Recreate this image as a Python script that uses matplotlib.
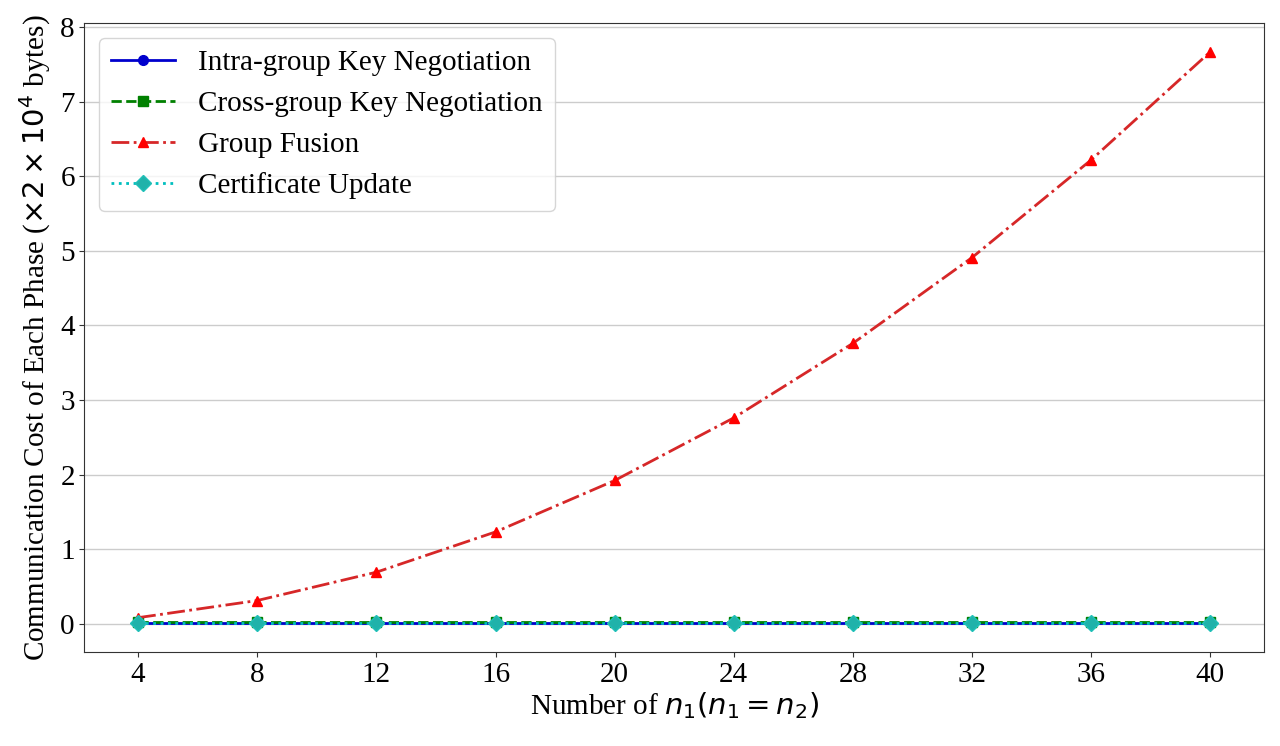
import matplotlib
matplotlib.use("Agg")
import matplotlib.pyplot as plt

n_values = [4, 8, 12, 16, 20, 24, 28, 32, 36, 40]
intra_group = [0.010, 0.010, 0.010, 0.010, 0.010, 0.010, 0.010, 0.010, 0.010, 0.010]
cross_group = [0.020, 0.020, 0.020, 0.020, 0.020, 0.020, 0.020, 0.020, 0.020, 0.020]
group_fusion = [0.08, 0.31, 0.69, 1.23, 1.92, 2.76, 3.76, 4.91, 6.22, 7.67]
cert_update = [0.003, 0.003, 0.003, 0.003, 0.003, 0.003, 0.003, 0.003, 0.003, 0.003]
labels = ["Intra-group Key Negotiation", "Cross-group Key Negotiation",
          "Group Fusion", "Certificate Update"]

plt.rcParams['font.family'] = ['Liberation Serif', 'DejaVu Serif']
plt.rcParams['mathtext.fontset'] = 'dejavusans'

fig = plt.figure(figsize=(12.8, 7.46), dpi=100)
ax = fig.add_axes([0.066, 0.126, 0.9215, 0.843])

ax.plot(n_values, intra_group, color='mediumblue', linestyle='-', marker='o',
        markersize=7, linewidth=2, label=labels[0])
ax.plot(n_values, cross_group, color='green', linestyle='--', marker='s',
        markersize=7, linewidth=2, label=labels[1])
ax.plot(n_values, group_fusion, color='#d62728', linestyle='-.', marker='^',
        markerfacecolor='red', markeredgecolor='red',
        markersize=7, linewidth=2, label=labels[2])
ax.plot(n_values, cert_update, color='c', linestyle=':', marker='D',
        markerfacecolor='#20b2aa', markeredgecolor='#20c0b8',
        markersize=8, linewidth=2, label=labels[3])

ax.set_xticks(n_values)
ax.set_yticks(range(0, 9))
ax.tick_params(labelsize=21, color='#333333')
ax.grid(axis='y', color='#cccccc', linewidth=1)
ax.set_axisbelow(True)
for s in ax.spines.values():
    s.set_color('#333333')

ax.set_xlabel(r"Number of $n_1(n_1=n_2)$", fontsize=21, labelpad=2)
ax.set_ylabel(r"Communication Cost of Each Phase ($\times2\times10^4$ bytes)", fontsize=21, labelpad=5)

leg = ax.legend(loc='upper left', fontsize=21, frameon=True, handlelength=2.2,
                labelspacing=0.5, borderaxespad=0.5)
leg.get_frame().set_edgecolor('#cccccc')

fig.savefig("out.png", dpi=100)
